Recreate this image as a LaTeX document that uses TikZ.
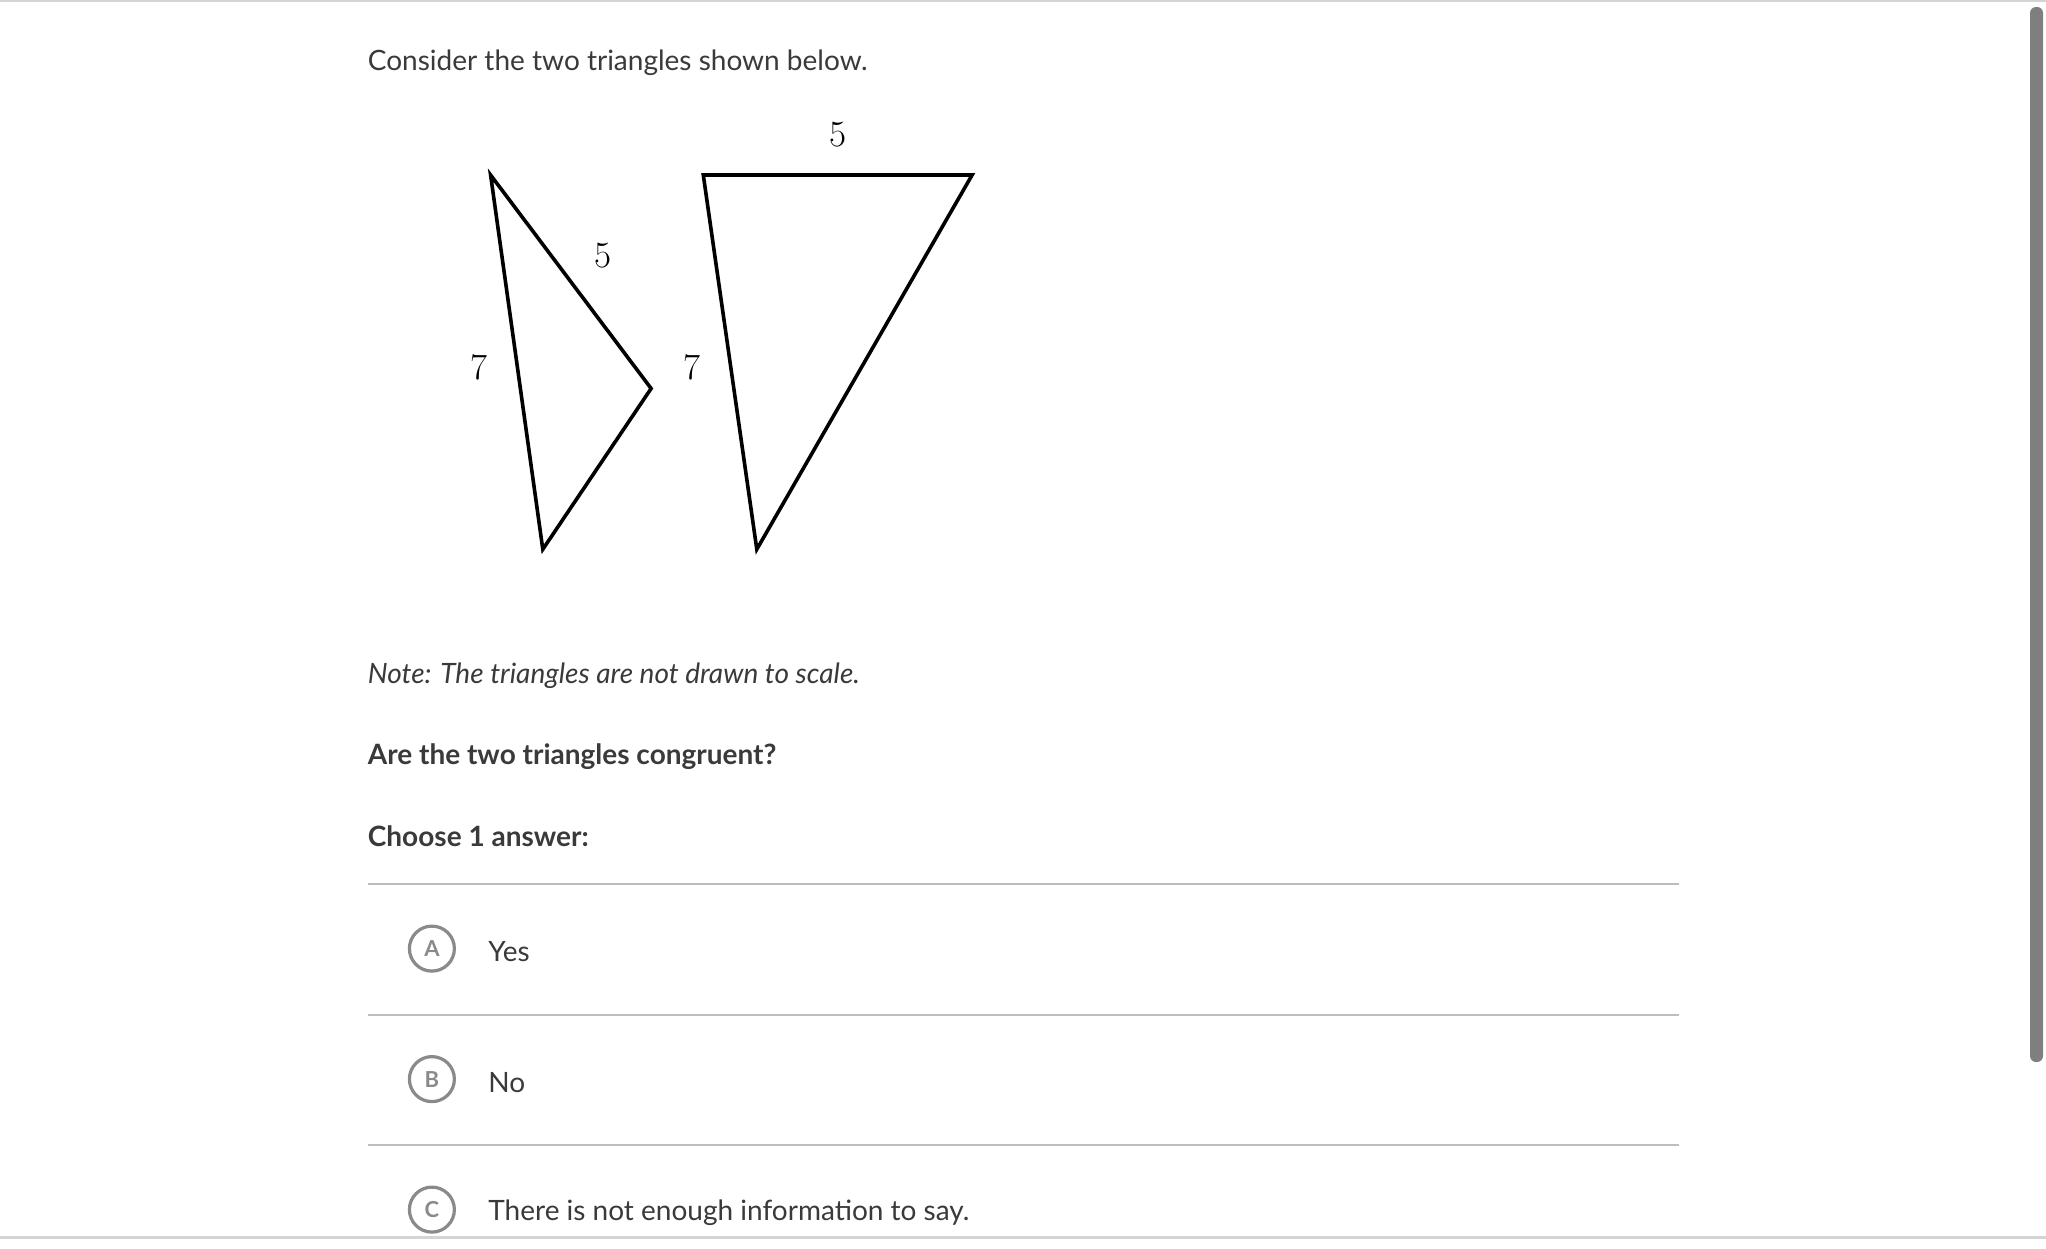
\documentclass[tikz,border=0pt]{standalone}
\usepackage{fontspec}
\setmainfont{Lato}
\newfontfamily\lmfont{Latin Modern Roman}
\definecolor{txt}{HTML}{3A3A3A}
\definecolor{sep}{HTML}{BDBDBD}
\definecolor{circ}{HTML}{8A8A8A}
\definecolor{bar}{HTML}{7F7F7F}
\definecolor{edge}{HTML}{D4D4D4}
\begin{document}
\begin{tikzpicture}[x=0.5pt,y=-0.5pt,
  body/.style={anchor=west,inner sep=0pt,text=txt,font=\fontsize{14pt}{16pt}\selectfont},
  bodyb/.style={body,font=\fontsize{14pt}{16pt}\selectfont\bfseries},
  bodyi/.style={body,font=\fontsize{14pt}{16pt}\selectfont\itshape},
  meas/.style={inner sep=0pt,text=black,font=\lmfont\fontsize{18.5pt}{20pt}\selectfont},
  tri/.style={line width=1.8pt,line join=miter,black},
  sepline/.style={line width=1pt,sep},
  choice/.style={circle,draw=circ,line width=1.6pt,minimum size=22.5pt,inner sep=0pt,text=circ,font=\fontsize{11pt}{12pt}\selectfont\bfseries},
]
\useasboundingbox (0,0) rectangle (2046,1248);
\fill[white] (0,0) rectangle (2046,1248);
% page edges
\draw[edge,line width=1pt] (0,1) -- (2046,1);
\draw[edge,line width=1.5pt] (0,1237) -- (2046,1237);
% scrollbar
\fill[bar,rounded corners=3pt] (2030,7) rectangle (2043,1062);

\node[body] (title) at (367.5,62.5) {Consider the two triangles shown below.};

% left triangle
\coordinate (LA) at (490.6,175);
\coordinate (LB) at (651.1,388.5);
\coordinate (LC) at (542.8,549.3);
\draw[tri] (LA) -- (LB) -- (LC) -- cycle;
% right triangle
\coordinate (RA) at (703.3,175);
\coordinate (RB) at (972.1,175);
\coordinate (RC) at (756.8,549.3);
\draw[tri] (RA) -- (RB) -- (RC) -- cycle;

\node[meas] (l5) at (602.8,256) {5};
\node[meas] (l7) at (478.9,367) {7};
\node[meas] (r7) at (691.5,367) {7};
\node[meas] (t5) at (837.7,134.4) {5};

\node[bodyi] (note) at (367.5,676) {Note: The triangles are not drawn to scale.};
\node[bodyb] (q) at (367.5,756.8) {Are the two triangles congruent?};
\node[bodyb] (choose) at (367.5,836.5) {Choose 1 answer:};

\coordinate (s1l) at (368,884.3); \coordinate (s1r) at (1679.3,884.3);
\coordinate (s2l) at (368,1014.8); \coordinate (s2r) at (1679.3,1014.8);
\coordinate (s3l) at (368,1145.3); \coordinate (s3r) at (1679.3,1145.3);
\draw[sepline] (s1l) -- (s1r);
\draw[sepline] (s2l) -- (s2r);
\draw[sepline] (s3l) -- (s3r);

\node[choice] (ca) at (431.9,948.6) {A};
\node[choice] (cb) at (431.9,1079.1) {B};
\node[choice] (cc) at (431.9,1209.6) {C};
\node[body] (ta) at (488,952) {Yes};
\node[body] (tb) at (488,1082.7) {No};
\node[body] (tc) at (488,1212.5) {There is not enough information to say.};
\end{tikzpicture}
\end{document}
